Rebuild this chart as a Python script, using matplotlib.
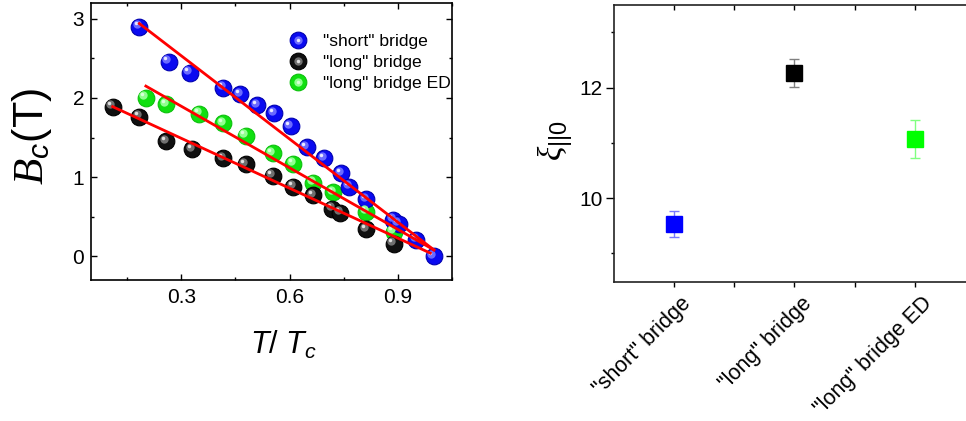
import matplotlib
matplotlib.use('Agg')
import matplotlib.pyplot as plt
import matplotlib.ticker as plticker
import matplotlib.transforms as mtransforms
from matplotlib.legend_handler import HandlerTuple

plt.rcParams['font.family']      = 'Liberation Sans'
plt.rcParams['mathtext.fontset'] = 'custom'
plt.rcParams['mathtext.rm']      = 'Liberation Sans'
plt.rcParams['mathtext.it']      = 'Liberation Sans:italic'
plt.rcParams['mathtext.sf']      = 'Liberation Serif:italic'

# critical field vs reduced temperature
short_T = [0.184, 0.265, 0.323, 0.417, 0.464, 0.511, 0.558, 0.604, 0.648, 0.696,
           0.743, 0.766, 0.813, 0.887, 0.903, 0.951, 0.999]
short_B = [2.90, 2.46, 2.32, 2.13, 2.05, 1.91, 1.81, 1.64, 1.38, 1.24,
           1.05, 0.88, 0.72, 0.46, 0.41, 0.21, 0.00]

long_T = [0.110, 0.184, 0.258, 0.331, 0.417, 0.479, 0.554, 0.610, 0.665, 0.718,
          0.741, 0.813, 0.889]
long_B = [1.89, 1.76, 1.45, 1.35, 1.24, 1.16, 1.02, 0.88, 0.77, 0.60,
          0.55, 0.34, 0.16]

ed_T = [0.202, 0.258, 0.350, 0.417, 0.479, 0.554, 0.610, 0.665, 0.721, 0.813, 0.889]
ed_B = [2.00, 1.92, 1.80, 1.68, 1.52, 1.30, 1.17, 0.93, 0.81, 0.56, 0.31]

# linear fits (end points)
short_fit_T = [0.184, 1.0]
short_fit_B = [2.94, 0.08]
ed_fit_T    = [0.202, 1.0]
ed_fit_B    = [2.15, 0.08]
long_fit_T  = [0.110, 0.99]
long_fit_B  = [1.89, 0.04]

# coherence length per sample
categories = ['"short" bridge', '"long" bridge', '"long" bridge ED']
xi_values  = [9.53, 12.26, 11.07]
xi_errors  = [0.23, 0.25, 0.34]

FONT_SIZE = 15

fig = plt.figure(figsize=(9.66, 4.21), dpi=100)

# ---------------- left panel ----------------
ax = fig.add_axes([0.0942, 0.3349, 0.3737, 0.658])

hl  = mtransforms.offset_copy(ax.transData, fig=fig, x=-2.5, y=2.5, units='dots')
hl2 = mtransforms.offset_copy(ax.transData, fig=fig, x=-3.5, y=3.5, units='dots')

series = [
    (ed_T,    ed_B,    '#10e010', '#0cc00c', '#90ff90', '#d8ffd8', '"long" bridge ED'),
    (long_T,  long_B,  '#101010', '#000000', '#707070', '#e0e0e0', '"long" bridge'),
    (short_T, short_B, '#0a0af0', '#0000b0', '#6a6aff', '#e8e8ff', '"short" bridge'),
]
handles = {}
for xs, ys, face, edge, mid, spot, label in series:
    ball, = ax.plot(xs, ys, 'o', ms=12, mfc=face, mec=edge, mew=0.8, zorder=2)
    glow, = ax.plot(xs, ys, 'o', ms=6, mfc=mid, mec='none', transform=hl, zorder=2.1)
    dot,  = ax.plot(xs, ys, 'o', ms=2.5, mfc=spot, mec='none', transform=hl2, zorder=2.2)
    handles[label] = (ball, glow, dot)

for xs, ys in [(short_fit_T, short_fit_B), (ed_fit_T, ed_fit_B), (long_fit_T, long_fit_B)]:
    ax.plot(xs, ys, color='#ff0000', lw=2.0, zorder=3)

ax.set_xlim(0.05, 1.05)
ax.set_ylim(-0.3, 3.2)
ax.xaxis.set_major_locator(plticker.FixedLocator([0.3, 0.6, 0.9]))
ax.xaxis.set_minor_locator(plticker.FixedLocator([0.15, 0.45, 0.75, 1.05]))
ax.yaxis.set_major_locator(plticker.MultipleLocator(1))
ax.yaxis.set_minor_locator(plticker.MultipleLocator(0.5))
ax.xaxis.set_major_formatter(plticker.FormatStrFormatter('%.1f'))
ax.tick_params(which='both', direction='in', top=True, right=True, width=1.0,
               labelsize=FONT_SIZE)
ax.tick_params(which='major', length=4)
ax.tick_params(which='minor', length=2)
ax.tick_params(axis='x', pad=6)
ax.tick_params(axis='y', pad=5)
for sp in ax.spines.values():
    sp.set_linewidth(1.2)

order = ['"short" bridge', '"long" bridge', '"long" bridge ED']
ax.legend([handles[k] for k in order], order, handler_map={tuple: HandlerTuple(ndivide=1)},
          loc='upper left', bbox_to_anchor=(0.55, 0.89), frameon=False, fontsize=12.6,
          handlelength=1.0, handletextpad=0.9, labelspacing=0.35, borderpad=0,
          borderaxespad=0)

fig.text(0.033, 0.675, r'$\mathsf{B}_c$(T)', rotation=90, fontsize=31,
         ha='center', va='center')
fig.text(0.293, 0.18, r'$T/\ T_c$', fontsize=22, ha='center', va='center')

# ---------------- right panel ----------------
ax2 = fig.add_axes([0.6356, 0.3302, 0.3737, 0.6586])

colors     = ['#0000ff', '#000000', '#00ff00']
err_colors = ['#7878ff', '#808080', '#80ff80']
for i, (val, err) in enumerate(zip(xi_values, xi_errors)):
    ax2.errorbar([i], [val], yerr=[err], fmt='s', ms=11, mfc=colors[i], mec=colors[i],
                 ecolor=err_colors[i], elinewidth=1.0, capsize=3.5, capthick=1.0)

ax2.set_xlim(-0.5, 2.5)
ax2.set_ylim(8.48, 13.5)
ax2.yaxis.set_major_locator(plticker.FixedLocator([10, 12]))
ax2.yaxis.set_minor_locator(plticker.FixedLocator([9, 11, 13]))
ax2.xaxis.set_major_locator(plticker.FixedLocator([0, 1, 2]))
ax2.xaxis.set_minor_locator(plticker.FixedLocator([0.5, 1.5]))
ax2.set_xticklabels(categories, rotation=45, ha='right', va='center',
                    rotation_mode='anchor')
ax2.tick_params(which='both', direction='out', width=1.0, labelsize=FONT_SIZE)
ax2.tick_params(axis='y', which='major', length=6, pad=2)
ax2.tick_params(axis='y', which='minor', length=2.5)
ax2.tick_params(axis='x', which='both', length=3.5, pad=3)
ax2.tick_params(axis='x', which='both', top=True)
for t in ax2.xaxis.get_major_ticks() + ax2.xaxis.get_minor_ticks():
    t.tick2line.set_marker(matplotlib.lines.TICKDOWN)
    t.tick2line.set_markersize(3.5)

shift = mtransforms.ScaledTranslation(0.14, -0.09, fig.dpi_scale_trans)
for lbl in ax2.get_xticklabels():
    lbl.set_fontsize(15.5)
    lbl.set_transform(lbl.get_transform() + shift)

for sp in ax2.spines.values():
    sp.set_linewidth(1.2)
    sp.set_color('#222222')

fig.text(0.5745, 0.665, r'$\mathsf{\xi}_{\mathrm{||0}}$', rotation=90, fontsize=24,
         ha='center', va='center')

fig.savefig('out.png', dpi=100)
